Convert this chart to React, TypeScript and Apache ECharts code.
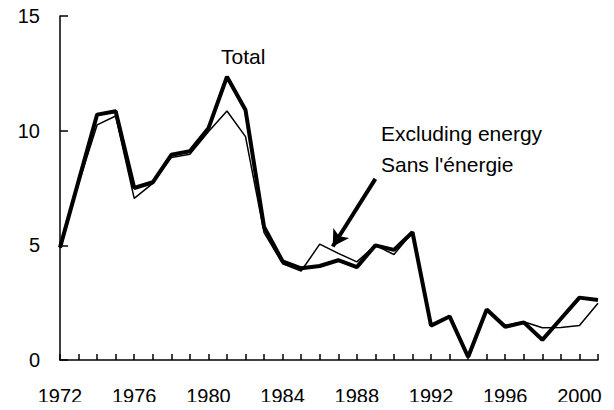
import React, { useEffect, useRef } from "react";
import * as echarts from "echarts";

const years: number[] = [];
for (let y = 1972; y <= 2001; y++) years.push(y);

const totalValues = [4.9, 7.8, 10.7, 10.85, 7.5, 7.75, 8.95, 9.1, 10.1, 12.35, 10.9, 5.8, 4.3, 4.0, 4.1, 4.35, 4.05, 5.0, 4.8, 5.57, 1.5, 1.9, 0.13, 2.2, 1.45, 1.64, 0.88, 1.8, 2.72, 2.62];
const exclEnergyValues = [4.9, 7.7, 10.25, 10.64, 7.05, 7.7, 8.83, 8.97, 9.95, 10.86, 9.74, 5.55, 4.2, 3.88, 5.05, 4.65, 4.28, 5.0, 4.6, 5.57, 1.5, 1.9, 0.13, 2.2, 1.5, 1.67, 1.41, 1.42, 1.5, 2.47];

const yTicks = [0, 5, 10, 15];
const labelTotal = "Total";
const labelExcl = ["Excluding energy", "Sans l'énergie"];
const arrowFrom = [1989.0, 7.9];
const arrowTo = [1986.7, 4.95];

const FONT = "'Liberation Sans', Arial, sans-serif";

export default function App() {
  const ref = useRef<HTMLDivElement>(null);
  useEffect(() => {
    if (!ref.current) return;
    const chart = echarts.init(ref.current, undefined, { renderer: "svg" });
    const toPairs = (vals: number[]) => vals.map((v, i) => [years[i], v]);
    chart.setOption({
      animation: false,
      backgroundColor: "#ffffff",
      grid: { left: 60, right: 16, top: 16, bottom: 50 },
      xAxis: {
        type: "value",
        min: years[0],
        max: years[years.length - 1],
        interval: 1,
        axisLine: { show: true, onZero: false, lineStyle: { color: "#000", width: 1.5 } },
        axisTick: { show: true, inside: true, length: 6, lineStyle: { color: "#000", width: 1.5 } },
        splitLine: { show: false },
        axisLabel: {
          color: "#000",
          fontSize: 20,
          fontFamily: FONT,
          margin: 26,
          formatter: (v: number) => ((v - 1972) % 4 === 0 ? String(v) : ""),
        },
      },
      yAxis: {
        type: "value",
        min: yTicks[0],
        max: yTicks[yTicks.length - 1],
        interval: 5,
        axisLine: { show: true, lineStyle: { color: "#000", width: 1.5 } },
        axisTick: { show: true, inside: true, length: 8, lineStyle: { color: "#000", width: 1.5 } },
        splitLine: { show: false },
        axisLabel: { color: "#000", fontSize: 20, fontFamily: FONT, margin: 20 },
      },
      graphic: [
        {
          type: "text",
          left: 221,
          top: 46,
          style: { text: labelTotal, fill: "#000", fontSize: 21, fontFamily: FONT },
        },
        {
          type: "text",
          left: 381,
          top: 123,
          style: { text: labelExcl[0], fill: "#000", fontSize: 21, fontFamily: FONT },
        },
        {
          type: "text",
          left: 381,
          top: 154,
          style: { text: labelExcl[1], fill: "#000", fontSize: 21, fontFamily: FONT },
        },
      ],
      series: [
        {
          name: "Excluding energy",
          type: "line",
          data: toPairs(exclEnergyValues),
          showSymbol: false,
          symbol: "none",
          lineStyle: { color: "#000", width: 1.5 },
          z: 2,
        },
        {
          name: "Total",
          type: "line",
          data: toPairs(totalValues),
          showSymbol: false,
          symbol: "none",
          lineStyle: { color: "#000", width: 4 },
          z: 3,
          markLine: {
            silent: true,
            symbol: ["none", "arrow"],
            symbolSize: [14, 16],
            label: { show: false },
            lineStyle: { color: "#000", width: 4, type: "solid" },
            data: [[{ coord: arrowFrom }, { coord: arrowTo }]],
          },
        },
      ],
    });
    return () => chart.dispose();
  }, []);
  return <div ref={ref} style={{ width: 614, height: 410, margin: -8 }} />;
}
